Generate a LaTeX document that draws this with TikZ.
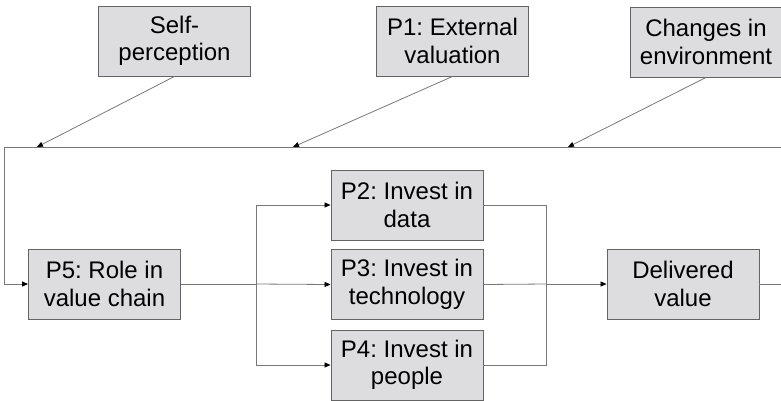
\documentclass[tikz,border=0pt]{standalone}
\usepackage{fontspec}
\setmainfont{Liberation Sans}
\usetikzlibrary{arrows.meta}
\definecolor{boxfill}{RGB}{221,221,224}
\definecolor{boxline}{RGB}{100,100,100}
\definecolor{conline}{RGB}{120,120,120}
\frenchspacing
\begin{document}
\begin{tikzpicture}[x=1pt,y=-1pt,
  pbox/.style={draw=boxline,fill=boxfill,line width=0.9pt,minimum width=152pt,minimum height=70pt,inner sep=0pt,align=center,font=\fontsize{24}{27.5}\selectfont},
  con/.style={draw=conline,line width=0.8pt},
  arr/.style={con,-{Triangle[length=6pt,width=5pt,fill=black,color=black]}}]
\useasboundingbox (0,0) rectangle (781,400);
\clip (0,0) rectangle (781,400);
\node[pbox] (self) at (174.5,41) {Self-\\perception};
\node[pbox] (p1) at (452.5,41) {P1: External\\valuation};
\node[pbox] (env) at (706,42) {Changes in\\environment};
\node[pbox] (p5) at (104.5,284) {P5: Role in\\value chain};
\node[pbox] (p2) at (407,205) {P2: Invest in\\data};
\node[pbox] (p3) at (407,284.5) {P3: Invest in\\technology};
\node[pbox] (p4) at (407,365) {P4: Invest in\\people};
\node[pbox] (dv) at (683,284) {Delivered\\value};
\coordinate (fbL) at (4,147);
\coordinate (fbR) at (781,147);
\coordinate (t1) at (37,147);
\coordinate (t2) at (293,147);
\coordinate (t3) at (568,147);
\coordinate (out) at (781,284);
\coordinate (split) at (256,284);
\coordinate (merge) at (546,284);
\draw[con] (fbR) -- (fbL);
\draw[arr] (fbL) |- (p5.west);
\draw[arr] (self.south) -- (t1);
\draw[arr] (p1.south) -- (t2);
\draw[arr] (env.south) -- (t3);
\draw[con] (p5.east) -- (split);
\draw[arr] (split) |- (p2.west);
\draw[arr] (split) -- (p3.west);
\draw[arr] (split) |- (p4.west);
\draw[con] (p2.east) -| (merge);
\draw[con] (p4.east) -| (merge);
\draw[con] (p3.east) -- (merge);
\draw[arr] (merge) -- (dv.west);
\draw[con] (dv.east) -- (out);
\end{tikzpicture}
\end{document}
